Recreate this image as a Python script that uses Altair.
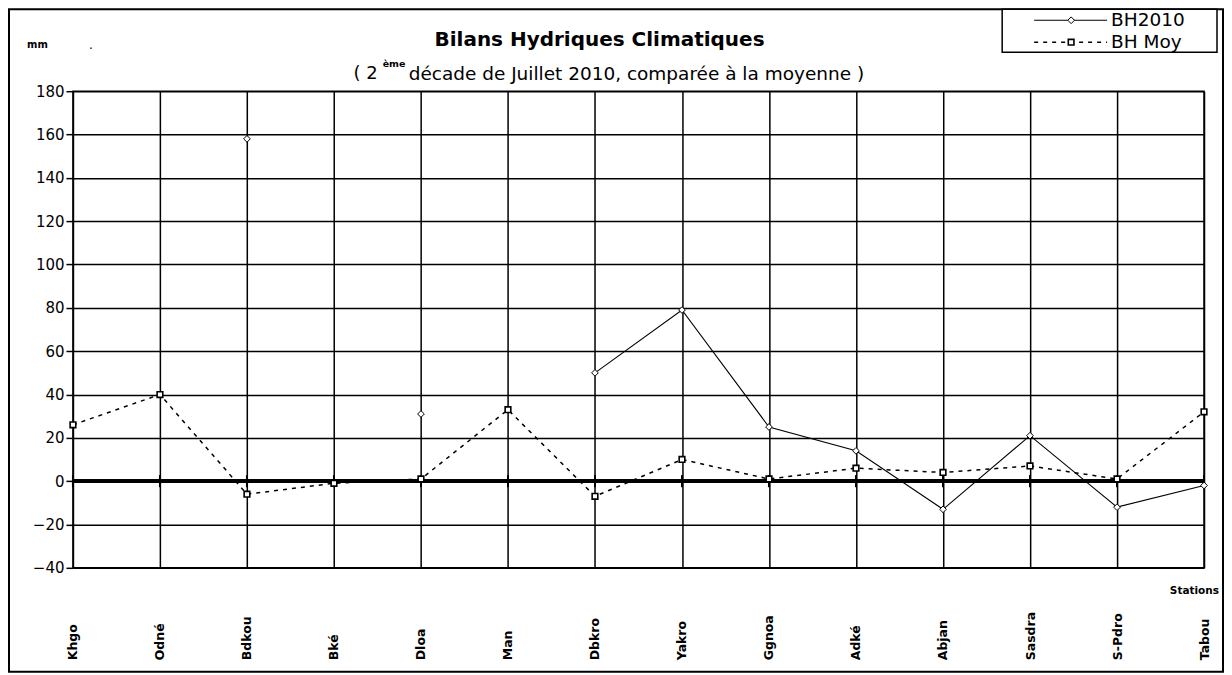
import altair as alt
import pandas as pd

# ---- data ----
stations = ["Khgo", "Odné", "Bdkou", "Bké", "Dloa", "Man", "Dbkro", "Yakro",
            "Ggnoa", "Adké", "Abjan", "Sasdra", "S-Pdro", "Tabou"]
bh2010 = [None, None, 158, None, 31, None, 50, 79, 25, 14, -13, 21, -12, -2]
bh_moy = [26, 40, -6, -1, 1, 33, -7, 10, 1, 6, 4, 7, 1, 32]
series_names = ["BH2010", "BH Moy"]
y_ticks = [-40, -20, 0, 20, 40, 60, 80, 100, 120, 140, 160, 180]
title_text = "Bilans Hydriques Climatiques"
sub_pre = "( 2"
sub_sup = "ème"
sub_post = "décade de Juillet 2010, comparée à la moyenne )"
unit_label = "mm"
x_axis_label = "Stations"

W, H = 1132, 477
FONT = "DejaVu Sans"

rows = []
for s, a, b in zip(stations, bh2010, bh_moy):
    rows.append({"station": s, "series": series_names[0], "value": a})
    rows.append({"station": s, "series": series_names[1], "value": b})
df = pd.DataFrame(rows)
df_st = pd.DataFrame({"station": stations})

x_enc = alt.X(
    "station:N", sort=stations,
    scale=alt.Scale(type="point", padding=0),
    axis=alt.Axis(title=None, grid=True, gridColor="black", gridOpacity=1, gridWidth=1.5,
                  ticks=False, domain=False, labelAngle=270, labelAlign="left",
                  labelBaseline="middle", labelPadding=92, labelFont=FONT,
                  labelFontSize=12.5, labelFontWeight="bold", labelColor="black"),
)
y_scale = alt.Scale(domain=[-40, 180], nice=False, zero=False)
y_enc = alt.Y(
    "value:Q", scale=y_scale,
    axis=alt.Axis(title=None, values=y_ticks, grid=True, gridColor="black", gridOpacity=1,
                  gridWidth=1.5, tickColor="black", tickSize=7, tickWidth=1.5, domain=False,
                  labelFont=FONT, labelFontSize=15, labelPadding=2, labelColor="black"),
)

base = alt.Chart(df)
s1 = base.transform_filter(alt.datum.series == series_names[0])
s2 = base.transform_filter(alt.datum.series == series_names[1])

line1 = s1.mark_line(color="black", strokeWidth=1.1, invalid="break-paths-show-domains").encode(x=x_enc, y=y_enc)
line2 = s2.mark_line(color="black", strokeWidth=1.5, strokeDash=[4, 5],
                     invalid="break-paths-show-domains").encode(x=x_enc, y=y_enc)
pts1 = s1.mark_point(shape="diamond", size=45, filled=True, fill="white", stroke="black",
                     strokeWidth=1, opacity=1).encode(x=x_enc, y=y_enc)
pts2 = s2.mark_point(shape="square", size=32, filled=True, fill="white", stroke="black",
                     strokeWidth=1.6, opacity=1).encode(x=x_enc, y=y_enc)

zero_line = alt.Chart(df_st).mark_rule(color="black", strokeWidth=3).encode(y=alt.datum(0))
zero_ticks = alt.Chart(df_st).mark_rule(color="black", strokeWidth=2).encode(
    x=alt.X("station:N", sort=stations), y=alt.datum(-2.8), y2=alt.datum(2.8))

# ---- decorations (pixel positions relative to plot origin) ----
frame = alt.Chart(pd.DataFrame({"k": [0]})).mark_rect(
    fillOpacity=0, stroke="black", strokeWidth=2).encode(
    x=alt.value(-64), x2=alt.value(1151), y=alt.value(-82), y2=alt.value(581))

def txt(t, x, y, size, weight="normal", align="left", baseline="middle"):
    return alt.Chart(pd.DataFrame({"t": [t]})).mark_text(
        font=FONT, fontSize=size, fontWeight=weight, align=align, baseline=baseline,
        color="black").encode(x=alt.value(x), y=alt.value(y), text="t:N")

title = txt(title_text, 527, -51, 20, "bold", "center")
sub1 = txt(sub_pre, 305, -17, 18, "normal", "right")
sub2 = txt(sub_sup, 310, -27, 9.5, "bold", "left")
sub3 = txt(sub_post, 336, -17, 18.5, "normal", "left")
mm = txt(unit_label, -46, -46, 10, "bold", "left")
dot = txt(".", 16, -46, 12, "normal", "left")
stations_lbl = txt(x_axis_label, 1147, 500, 10.5, "bold", "right")

# ---- legend ----
LX0, LX1 = 930, 1145
LY0, LY1 = -82, -39
row_y = [-71, -49]
leg_box = alt.Chart(pd.DataFrame({"k": [0]})).mark_rect(
    fill="white", stroke="black", strokeWidth=1.5).encode(
    x=alt.value(LX0), x2=alt.value(LX1), y=alt.value(LY0), y2=alt.value(LY1))
leg_l1 = alt.Chart(pd.DataFrame({"k": [0]})).mark_rule(color="black", strokeWidth=1.1).encode(
    x=alt.value(962), x2=alt.value(1035), y=alt.value(row_y[0]))
leg_l2 = alt.Chart(pd.DataFrame({"k": [0]})).mark_rule(color="black", strokeWidth=1.5,
                                                        strokeDash=[4, 5]).encode(
    x=alt.value(962), x2=alt.value(1035), y=alt.value(row_y[1]))
leg_p1 = alt.Chart(pd.DataFrame({"k": [0]})).mark_point(
    shape="diamond", size=45, filled=True, fill="white", stroke="black", strokeWidth=1,
    opacity=1).encode(x=alt.value(999), y=alt.value(row_y[0]))
leg_p2 = alt.Chart(pd.DataFrame({"k": [0]})).mark_point(
    shape="square", size=32, filled=True, fill="white", stroke="black", strokeWidth=1.6,
    opacity=1).encode(x=alt.value(999), y=alt.value(row_y[1]))
leg_t1 = txt(series_names[0], 1039, row_y[0], 18.5)
leg_t2 = txt(series_names[1], 1039, row_y[1], 18.5)

chart = alt.layer(
    frame, zero_line, line1, line2, zero_ticks, pts1, pts2,
    title, sub1, sub2, sub3, mm, dot, stations_lbl,
    leg_box, leg_l1, leg_l2, leg_p1, leg_p2, leg_t1, leg_t2,
).properties(
    width=W, height=H,
    padding={"left": 65, "top": 83, "right": 20, "bottom": 105},
    autosize=alt.AutoSizeParams(type="none"),
    background="white",
).configure_view(stroke="black", strokeWidth=1.5)

chart.save("out.html", embed_options={"renderer": "svg", "actions": False})
